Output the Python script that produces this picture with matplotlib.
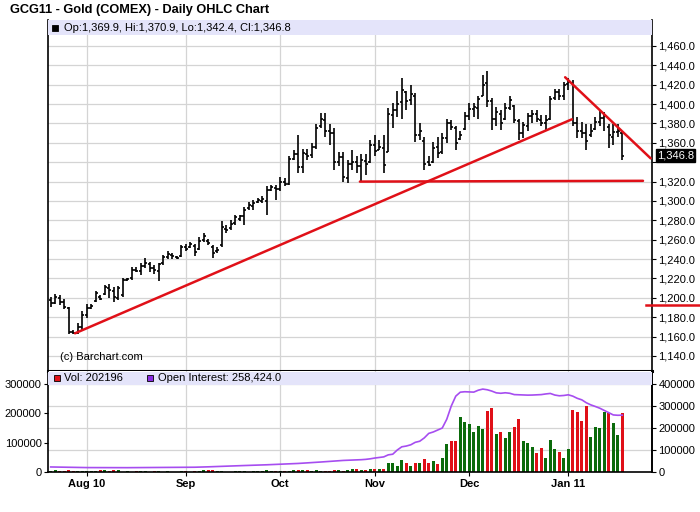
import matplotlib
matplotlib.use("Agg")
import matplotlib.pyplot as plt
from matplotlib.patches import Rectangle
import numpy as np
import pandas as pd

plt.rcParams['font.family'] = ['Liberation Sans', 'DejaVu Sans']

# trading days shown (Feb 2011 gold contract)
holidays = ["2010-09-06", "2010-11-25", "2010-12-24", "2011-01-17"]
dates = pd.bdate_range("2010-07-21", "2011-01-20", freq="C", holidays=holidays)
month_labels = ["Aug 10", "Sep", "Oct", "Nov", "Dec", "Jan 11"]

opens = [1198, 1195, 1200, 1196, 1190, 1165, 1164, 1170, 1182, 1190,
         1197, 1201, 1204, 1210, 1207, 1200, 1203, 1218, 1220, 1229,
         1228, 1233, 1235, 1231, 1228, 1236, 1242, 1244, 1242, 1243,
         1252, 1252, 1254, 1250, 1260, 1259, 1253, 1248, 1255, 1271,
         1272, 1277, 1281, 1284, 1293, 1295, 1299, 1300, 1300, 1311,
         1313, 1312, 1320, 1318, 1343, 1348, 1335, 1348, 1347, 1356,
         1377, 1384, 1372, 1370, 1340, 1345, 1324, 1338, 1340, 1336,
         1341, 1340, 1358, 1353, 1355, 1351, 1389, 1394, 1402, 1412,
         1404, 1408, 1368, 1362, 1340, 1340, 1356, 1351, 1365, 1380,
         1375, 1364, 1374, 1388, 1395, 1396, 1408, 1422, 1403, 1385,
         1390, 1385, 1396, 1398, 1383, 1370, 1377, 1388, 1390, 1384,
         1380, 1385, 1406, 1412, 1408, 1421, 1422, 1380, 1372, 1370,
         1368, 1374, 1382, 1386, 1376, 1366, 1371, 1369.9]
highs = [1201, 1204, 1203, 1199, 1191, 1167, 1174, 1186, 1194, 1194,
         1207, 1203, 1213, 1214, 1211, 1212, 1220, 1221, 1232, 1232,
         1236, 1241, 1237, 1234, 1236, 1244, 1248, 1246, 1243, 1255,
         1256, 1258, 1256, 1263, 1267, 1261, 1255, 1253, 1279, 1275,
         1280, 1286, 1286, 1294, 1299, 1301, 1303, 1305, 1315, 1317,
         1317, 1325, 1324, 1346, 1353, 1368, 1354, 1354, 1360, 1379,
         1391, 1391, 1379, 1375, 1351, 1351, 1342, 1353, 1346, 1348,
         1349, 1363, 1368, 1363, 1368, 1396, 1401, 1413, 1427, 1413,
         1420, 1411, 1380, 1366, 1346, 1361, 1366, 1370, 1385, 1384,
         1377, 1372, 1392, 1401, 1401, 1408, 1430, 1434, 1406, 1397,
         1394, 1401, 1408, 1399, 1385, 1382, 1391, 1394, 1394, 1389,
         1389, 1408, 1416, 1416, 1423, 1427, 1425, 1387, 1382, 1379,
         1379, 1387, 1394, 1392, 1379, 1379, 1379, 1370.9]
lows = [1191, 1194, 1193, 1189, 1163, 1163, 1163, 1167, 1179, 1188,
        1196, 1198, 1203, 1200, 1196, 1198, 1201, 1217, 1218, 1227,
        1224, 1231, 1227, 1225, 1217, 1234, 1240, 1240, 1240, 1242,
        1248, 1251, 1243, 1249, 1258, 1255, 1241, 1246, 1253, 1267,
        1270, 1275, 1279, 1275, 1291, 1291, 1298, 1298, 1286, 1310,
        1301, 1310, 1315, 1317, 1342, 1329, 1329, 1342, 1344, 1354,
        1375, 1366, 1358, 1332, 1336, 1320, 1319, 1332, 1329, 1320,
        1327, 1339, 1346, 1353, 1329, 1351, 1375, 1387, 1385, 1394,
        1399, 1361, 1363, 1332, 1336, 1339, 1344, 1349, 1360, 1373,
        1353, 1363, 1373, 1384, 1387, 1385, 1408, 1397, 1373, 1377,
        1373, 1384, 1394, 1380, 1363, 1365, 1372, 1380, 1382, 1377,
        1373, 1384, 1404, 1404, 1404, 1415, 1377, 1365, 1365, 1353,
        1366, 1373, 1377, 1372, 1355, 1358, 1366, 1342.4]
closes = [1195, 1201, 1196, 1191, 1165, 1164, 1170, 1182, 1190, 1192,
          1205, 1199, 1211, 1208, 1201, 1210, 1218, 1219, 1229, 1228,
          1233, 1236, 1231, 1229, 1235, 1242, 1245, 1243, 1241, 1252,
          1250, 1256, 1247, 1259, 1264, 1257, 1246, 1249, 1273, 1270,
          1276, 1283, 1284, 1291, 1296, 1298, 1301, 1302, 1311, 1314,
          1312, 1320, 1318, 1343, 1348, 1335, 1350, 1346, 1356, 1375,
          1385, 1372, 1370, 1340, 1345, 1325, 1338, 1340, 1336, 1342,
          1338, 1358, 1352, 1356, 1337, 1390, 1394, 1400, 1415, 1403,
          1410, 1368, 1372, 1338, 1337, 1355, 1350, 1365, 1380, 1376,
          1360, 1368, 1388, 1395, 1397, 1405, 1420, 1403, 1385, 1392,
          1380, 1396, 1404, 1384, 1370, 1378, 1388, 1390, 1385, 1380,
          1384, 1405, 1412, 1408, 1420, 1423, 1380, 1372, 1370, 1362,
          1372, 1382, 1386, 1388, 1368, 1371, 1372, 1346.8]
volume = [2100, 5200, 1800, 2600, 6100, 4800, 2300, 1900, 3500, 2200,
          3800, 6500, 5700, 2600, 6200, 5400, 1700, 2100, 1500, 1900,
          2400, 1800, 1600, 2000, 4500, 1500, 1900, 1300, 1700, 4200,
          2000, 1600, 2300, 1900, 5300, 5600, 5900, 1800, 4700, 1500,
          1700, 2000, 1800, 3900, 1600, 1900, 2400, 4800, 5200, 3600,
          2500, 2200, 1900, 3600, 6900, 7600, 6400, 8000, 4500, 5800,
          3200, 2800, 2600, 7200, 6800, 5100, 8400, 11400, 9100, 5700,
          5700, 9100, 9100, 9100, 9100, 29600, 29600, 19400, 39900, 29600,
          19400, 29600, 29600, 43300, 29600, 36500, 26200, 46700, 94600, 107200,
          107200, 187000, 169900, 164200, 135700, 158500, 145900, 207500, 217800, 128800,
          135700, 115100, 135700, 152800, 180200, 104900, 98000, 84400, 63800, 80900,
          46700, 108300, 77500, 67300, 46700, 77500, 210900, 204100, 173300, 224600,
          118600, 152800, 149300, 204100, 200600, 166400, 125400, 202196]
open_interest = [22900, 22500, 22000, 21600, 21200, 20800, 20500, 20300, 20100, 20000,
                 19900, 19900, 19800, 19800, 19800, 19700, 19700, 19700, 19800, 19800,
                 19900, 19900, 20000, 20100, 20200, 20300, 20400, 20500, 20600, 20800,
                 21000, 21300, 21700, 22200, 22800, 23500, 24300, 25200, 26000, 26800,
                 27500, 28200, 28800, 29400, 30000, 30600, 31300, 32000, 32800, 33600,
                 34400, 35100, 35900, 36800, 37800, 38900, 40100, 41300, 42600, 44000,
                 45400, 46900, 48400, 50000, 51500, 52600, 53400, 54200, 55000, 56000,
                 57500, 60000, 63500, 66000, 68700, 78000, 80900, 100000, 114500, 118000,
                 123700, 135000, 140000, 155000, 175600, 182000, 190800, 200000, 240000, 300000,
                 345000, 363000, 365000, 364000, 363300, 372000, 377100, 374000, 368000, 360000,
                 358000, 360300, 358000, 352000, 351100, 350000, 349600, 350000, 351100, 352000,
                 355000, 357300, 350000, 346600, 348000, 351100, 345000, 335000, 328200, 315000,
                 305300, 298000, 290100, 280000, 270000, 259500, 258000, 258424]

# hand-drawn trend lines: (bar index, price) -> (bar index, price)
trend_up = ((5.4, 1163.4), (115.8, 1384.3))
trend_down = ((114.3, 1427.7), (133.3, 1344.0))
support = ((68.7, 1320.0), (131.6, 1320.8))
side_marker = 1192.5

W, H = 700, 512
RED = "#E01018"
GREEN = "#0B6B0B"
PURPLE = "#A64DF0"
STRIP = "#E4E4FA"
GRID = "#D4D4D4"

idx = np.arange(len(dates))
o = np.array(opens); h = np.array(highs); l = np.array(lows); c = np.array(closes)
month_pos = [i for i in range(1, len(dates)) if dates[i].month != dates[i - 1].month]

fig = plt.figure(figsize=(W / 100, H / 100), dpi=100)
ax = fig.add_axes([48 / W, 1 - 371 / H, 604 / W, 351 / H])
axv = fig.add_axes([48 / W, 1 - 472 / H, 604 / W, 101 / H], sharex=ax)

# ---- price panel
ax.set_xlim(-0.6, 133.6)
ax.set_ylim(1124.5, 1486.8)
price_ticks = np.arange(1140, 1461, 20)
for p in price_ticks:
    ax.axhline(p, color=GRID, lw=0.9, zorder=0)
for m in month_pos:
    ax.axvline(m, color=GRID, lw=0.9, zorder=0)
    axv.axvline(m, color=GRID, lw=0.9, zorder=0)

ax.vlines(idx, l, h, color="black", lw=1.2, zorder=3)
ax.hlines(o, idx - 0.45, idx, color="black", lw=1.2, zorder=3)
ax.hlines(c, idx, idx + 0.45, color="black", lw=1.2, zorder=3)

for (x0, y0), (x1, y1) in (trend_up, trend_down, support):
    ax.plot([x0, x1], [y0, y1], color=RED, lw=1.8, zorder=4, solid_capstyle="round")

ax.yaxis.tick_right()
ax.set_yticks(price_ticks)
ax.set_yticklabels(["" if p == 1340 else f"{p:,.1f}" for p in price_ticks], fontsize=8)
ax.tick_params(axis="y", direction="out", length=3, width=0.8, pad=1.5)
ax.tick_params(axis="x", bottom=False, labelbottom=False)
for s in ("left", "right"):
    ax.spines[s].set_linewidth(1.2)
ax.spines["top"].set_visible(False)
ax.spines["bottom"].set_linewidth(2.2)

ax.add_patch(Rectangle((0, 1 - 15 / 351), 1, 15 / 351, transform=ax.transAxes,
                       facecolor=STRIP, edgecolor="none", zorder=5, clip_on=False))
ax.text(12 / 604, 14 / 351, "(c) Barchart.com", transform=ax.transAxes,
        fontsize=8, va="center", ha="left")

# last price tag on the right axis
ax.text(1.0 + 5 / 604, c[-1], f"{c[-1]:,.1f}", transform=ax.get_yaxis_transform(),
        fontsize=8, color="white", va="center", ha="left", zorder=6,
        bbox=dict(boxstyle="square,pad=0.12", facecolor="black", edgecolor="black"))
ax.plot([598 / 604, 652 / 604], [side_marker, side_marker], color=RED, lw=1.8,
        transform=ax.get_yaxis_transform(), clip_on=False, zorder=6)

# ---- volume panel
vol_top = 344500
ratio = 4 / 3  # open interest units per volume unit
axv.set_ylim(0, vol_top)
for g in range(100000, 400001, 100000):
    axv.axhline(g / ratio, color=GRID, lw=0.9, zorder=0)

chg = np.diff(c, prepend=c[0])
bar_colors = [GREEN if d >= 0 else RED for d in chg]
axv.bar(idx, volume, width=0.68, color=bar_colors, zorder=2)
axv.plot(idx, np.array(open_interest) / ratio, color=PURPLE, lw=1.2, zorder=3)

axv.set_yticks([0, 100000, 200000, 300000])
axv.set_yticklabels(["0", "100000", "200000", "300000"], fontsize=8)
axv.tick_params(axis="y", direction="out", length=3, width=0.8, pad=1.5)
sec = axv.secondary_yaxis("right", functions=(lambda v: v * ratio, lambda v: v / ratio))
sec.set_yticks([0, 100000, 200000, 300000, 400000])
sec.set_yticklabels(["0", "100000", "200000", "300000", "400000"], fontsize=8)
sec.tick_params(direction="out", length=3, width=0.8, pad=1.5)
sec.spines["right"].set_linewidth(1.2)

axv.set_xticks(month_pos)
axv.set_xticklabels(month_labels, fontsize=8, fontweight="bold")
axv.tick_params(axis="x", direction="out", length=3, width=0.8, pad=2)
for s in ("left", "right", "bottom"):
    axv.spines[s].set_linewidth(1.2)
axv.spines["top"].set_visible(False)

axv.add_patch(Rectangle((0, 1 - 14 / 101), 1, 13 / 101, transform=axv.transAxes,
                        facecolor=STRIP, edgecolor="none", zorder=5, clip_on=False))

# ---- header texts
fig.text(10 / W, 1 - 10 / H, "GCG11 - Gold (COMEX) - Daily OHLC Chart",
         fontsize=9.2, fontweight="bold", va="center", ha="left")

def legend_box(px, py, color):
    fig.patches.append(Rectangle((px / W, 1 - (py + 3) / H), 6 / W, 6 / H,
                                 transform=fig.transFigure, facecolor=color,
                                 edgecolor="black", lw=0.6, zorder=10))

legend_box(52, 28, "black")
fig.text(64 / W, 1 - 28 / H,
         f"Op:{o[-1]:,.1f}, Hi:{h[-1]:,.1f}, Lo:{l[-1]:,.1f}, Cl:{c[-1]:,.1f}",
         fontsize=8, va="center", ha="left", zorder=10)
legend_box(54, 378, RED)
fig.text(64 / W, 1 - 378 / H, f"Vol: {volume[-1]}", fontsize=8, va="center", ha="left", zorder=10)
legend_box(147, 378, "#8A2BE2")
fig.text(158 / W, 1 - 378 / H, f"Open Interest: {open_interest[-1]:,.1f}",
         fontsize=8, va="center", ha="left", zorder=10)

fig.savefig("out.png", dpi=100, facecolor="white")
